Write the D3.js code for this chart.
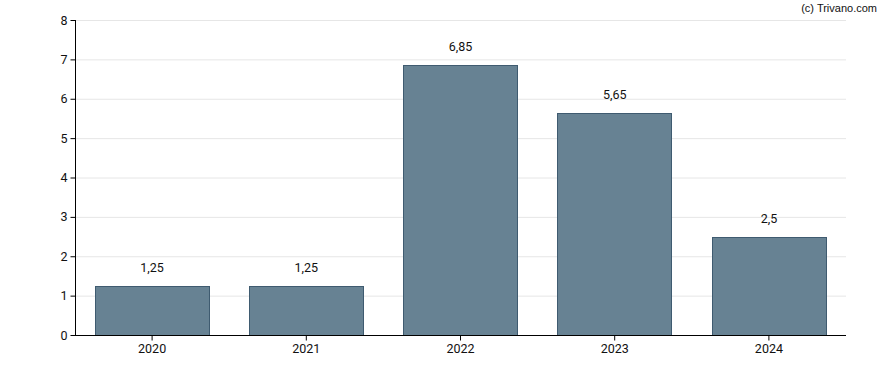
<!DOCTYPE html>
<html><head><meta charset="utf-8">
<script src="https://cdn.jsdelivr.net/npm/d3@7"></script>
<style>body{margin:0;background:#fff}svg{display:block}</style>
</head><body>
<svg id="c" width="888" height="370"></svg>
<script>
const categories = ["2020","2021","2022","2023","2024"];
const values = [1.25,1.25,6.85,5.65,2.5];
const labels = ["1,25","1,25","6,85","5,65","2,5"];
const yTicks = [0,1,2,3,4,5,6,7,8];

const svg = d3.select("#c");
const m = {l:75, r:846, t:20, b:335};
const x = d3.scaleBand().domain(categories).range([m.l, m.r]).paddingInner(0.256).paddingOuter(0.128);
const y = d3.scaleLinear().domain([0,8]).range([m.b, m.t]);
const font = "Roboto, sans-serif";

svg.append("g").selectAll("line").data(yTicks.filter(d=>d>0)).join("line")
  .attr("x1", m.l).attr("x2", m.r).attr("y1", d=>y(d)+0.5).attr("y2", d=>y(d)+0.5)
  .attr("stroke", "#e6e6e6").attr("stroke-width", 1);

svg.append("g").selectAll("rect").data(values).join("rect")
  .attr("x", (d,i)=>Math.round(x(categories[i]))+0.5)
  .attr("y", d=>Math.round(y(d))+0.5)
  .attr("width", Math.round(x.bandwidth())-1)
  .attr("height", d=>Math.round(y(0))-Math.round(y(d)))
  .attr("fill", "rgb(103,130,147)")
  .attr("stroke", "#3f5b70").attr("stroke-width", 1);

svg.append("g").selectAll("text").data(values).join("text")
  .attr("x", (d,i)=>x(categories[i])+x.bandwidth()/2)
  .attr("y", d=>y(d)-14)
  .attr("text-anchor","middle")
  .attr("font-family", font).attr("font-size", 12.5).attr("fill","#111")
  .text((d,i)=>labels[i]);

const ya = svg.append("g").attr("transform", `translate(${m.l+0.5},0)`)
  .call(d3.axisLeft(y).tickValues(yTicks).tickSize(5).tickPadding(3).tickFormat(d3.format("d")));
ya.select(".domain").attr("d", `M0,${m.t}V${m.b+0.5}`).attr("stroke","#000");
ya.selectAll("text").attr("font-family", font).attr("font-size", 12.5).attr("fill","#111");

const xa = svg.append("g").attr("transform", `translate(0,${m.b+0.5})`)
  .call(d3.axisBottom(x).tickSize(5).tickPadding(4).tickSizeOuter(0));
xa.select(".domain").attr("d", `M${m.l},0H${m.r}`).attr("stroke","#000");
xa.selectAll("text").attr("font-family", font).attr("font-size", 12.5).attr("fill","#111");

svg.append("text").attr("x", 877).attr("y", 12).attr("text-anchor","end")
  .attr("font-family", "Liberation Sans, Arial, sans-serif").attr("font-size", 11).attr("fill","#111")
  .text("(c) Trivano.com");
</script>
</body></html>
